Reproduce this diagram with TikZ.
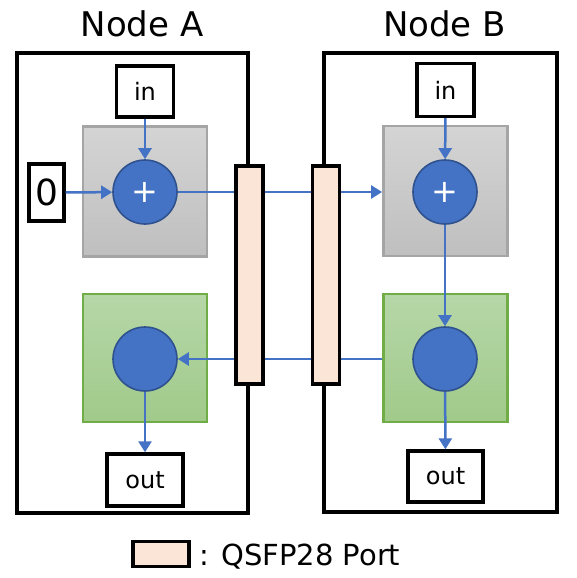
\documentclass[tikz,border=0pt]{standalone}
\usepackage{fontspec}
\setmainfont{DejaVu Sans}
\usetikzlibrary{arrows.meta}
\definecolor{ablue}{HTML}{4472C4}
\definecolor{cborder}{HTML}{2F528F}
\definecolor{gtop}{HTML}{D4D4D4}
\definecolor{gbot}{HTML}{BFBFBF}
\definecolor{gbord}{HTML}{A5A5A5}
\definecolor{ntop}{HTML}{B6D7A8}
\definecolor{nbot}{HTML}{A0CA8A}
\definecolor{nbord}{HTML}{70AD47}
\definecolor{port}{HTML}{FBE5D6}
\tikzset{
  hostbox/.style={draw=black, line width=4.7pt, rectangle, inner sep=0pt},
  title/.style={anchor=base, inner sep=0pt, font=\fontsize{34}{40}\selectfont},
  iobox/.style={draw=black, line width=3.4pt, fill=white, rectangle, inner sep=0pt, font=\fontsize{24}{28}\selectfont},
  greysq/.style={draw=gbord, line width=2.8pt, top color=gtop, bottom color=gbot, rectangle, inner sep=0pt, minimum width=124pt, minimum height=130pt},
  greensq/.style={draw=nbord, line width=2.8pt, top color=ntop, bottom color=nbot, rectangle, inner sep=0pt, minimum width=124pt, minimum height=128pt},
  opcirc/.style={circle, draw=cborder, line width=1.6pt, fill=ablue, minimum size=64pt, inner sep=0pt, text=white, font=\fontsize{32}{32}\selectfont},
  portbox/.style={draw=black, line width=3.4pt, fill=port, rectangle, inner sep=0pt},
  arr/.style={draw=ablue, line width=2.5pt, -{Triangle[length=11pt,width=13pt]}},
}
\begin{document}
\begin{tikzpicture}[x=1pt,y=-1pt]
\useasboundingbox (0,0) rectangle (576,578);
% hosts
\node[hostbox, minimum width=231pt, minimum height=460pt] (hostA) at (132.5,283) {};
\node[hostbox, minimum width=233pt, minimum height=459pt] (hostB) at (440.5,282.5) {};
\node[title] (tA) at (142,37) {Node A};
\node[title] (tB) at (444.5,37) {Node B};
% squares
\node[greysq] (sqA) at (145,191.5) {};
\node[greysq] (sqB) at (445.5,191) {};
\node[greensq] (gsA) at (145,358) {};
\node[greensq] (gsB) at (445.5,358) {};
% circles
\node[opcirc] (cA) at (145,192) {+};
\node[opcirc] (cB) at (445,192) {+};
\node[opcirc] (dA) at (145,359) {};
\node[opcirc] (dB) at (445,359) {};
% io boxes
\node[iobox, minimum width=57pt, minimum height=51pt] (inA) at (145,91.5) {in};
\node[iobox, minimum width=57pt, minimum height=53pt] (inB) at (445.5,90) {in};
\node[iobox, minimum width=35pt, minimum height=57pt, font=\fontsize{36}{40}\selectfont] (zero) at (46.5,192.5) {0};
\node[iobox, minimum width=76pt, minimum height=52pt] (outA) at (145,480) {out};
\node[iobox, minimum width=75pt, minimum height=51pt] (outB) at (445.5,476.5) {out};
% connectors
\draw[arr] (inA) -- (cA);
\draw[arr] (zero) -- (cA);
\draw[arr] (inB) -- (cB);
\draw[arr] (cA.east) -- (cA.east -| sqB.west);
\draw[arr] (cB) -- (dB);
\draw[arr] (dB) -- (outB);
\draw[arr] (dA) -- (outA);
\draw[arr] (gsB.west |- dA.east) -- (dA.east);
% ports
\node[portbox, minimum width=27pt, minimum height=218pt] (pA) at (249.5,275) {};
\node[portbox, minimum width=27pt, minimum height=218pt] (pB) at (326,275) {};
% legend
\node[portbox, minimum width=56pt, minimum height=25pt] (leg) at (161,554) {};
\node[anchor=base west, inner sep=0pt, font=\fontsize{29}{32}\selectfont] (legt) at (199,565) {: QSFP28 Port};
\end{tikzpicture}
\end{document}
